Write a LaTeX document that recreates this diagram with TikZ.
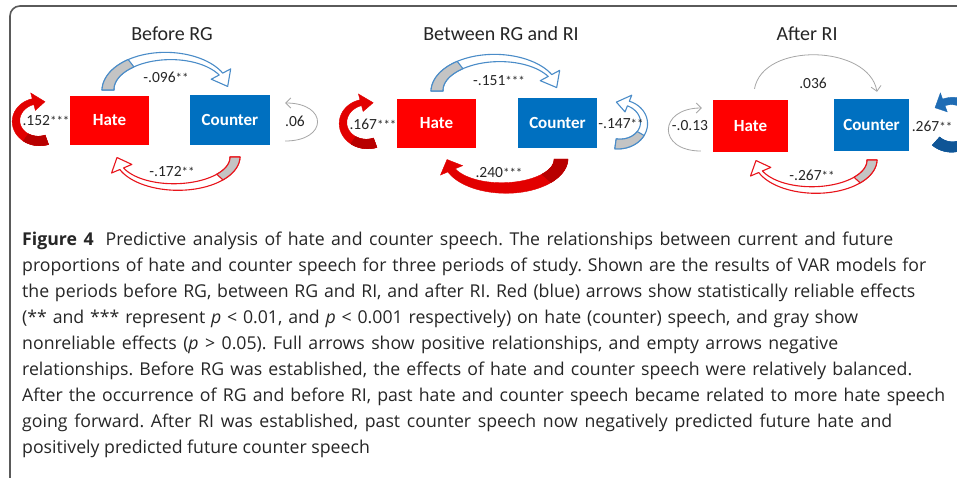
\documentclass[tikz,border=0pt]{standalone}
\usepackage{fontspec}
\setmainfont{Open Sans}
\newfontfamily\carl{Carlito}
\usetikzlibrary{arrows.meta}
\frenchspacing
\definecolor{hred}{HTML}{FF0000}
\definecolor{cblue}{HTML}{0070C0}
\definecolor{arrblue}{HTML}{4A8CC8}
\definecolor{arrred}{HTML}{E8141B}
\definecolor{tailgray}{HTML}{C4C4C4}
\definecolor{fillred}{HTML}{E20000}
\definecolor{darkred}{HTML}{B80000}
\definecolor{fillblue}{HTML}{1F6CB4}
\definecolor{darkblue}{HTML}{0F5596}
\definecolor{thingray}{HTML}{A6A6A6}
\definecolor{framecol}{HTML}{5A5A5A}
\definecolor{captxt}{HTML}{262626}
\def\hw{11}
\def\hlen{22}
% #1 cx #2 cy #3 rx #4 ry #5 tail angle #6 head-base angle #7 w tail #8 w head #9 end of shaded tail
\newcommand{\bandarrow}[9]{%
  \pgfmathsetmacro\hdir{((#6)>(#5)) ? (\hlen) : (-\hlen)}%
  \def\W{((#7)+((#8)-(#7))*(\x-(#5))/((#6)-(#5)))}%
  \path[arrbody] plot[domain=#5:#6,samples=40] ({#1+(#3+\W/2)*cos(\x)},{#2-(#4+\W/2)*sin(\x)})
    -- ({#1+(#3+\hw)*cos(#6)},{#2-(#4+\hw)*sin(#6)})
    -- ({#1+#3*cos(#6+\hdir)},{#2-#4*sin(#6+\hdir)})
    -- ({#1+(#3-\hw)*cos(#6)},{#2-(#4-\hw)*sin(#6)})
    -- plot[domain=#6:#5,samples=40] ({#1+(#3-\W/2)*cos(\x)},{#2-(#4-\W/2)*sin(\x)})
    -- cycle;
  \path[arrtail] plot[domain=#5:#9,samples=20] ({#1+(#3+\W/2)*cos(\x)},{#2-(#4+\W/2)*sin(\x)})
    -- plot[domain=#9:#5,samples=20] ({#1+(#3-\W/2)*cos(\x)},{#2-(#4-\W/2)*sin(\x)})
    -- cycle;
}
\newcommand{\useEB}{\tikzset{arrbody/.style={fill=white,draw=arrblue,line width=1.1pt,line join=round},arrtail/.style={fill=tailgray,draw=arrblue,line width=1.1pt,line join=round}}}
\newcommand{\useER}{\tikzset{arrbody/.style={fill=white,draw=arrred,line width=1.1pt,line join=round},arrtail/.style={fill=tailgray,draw=arrred,line width=1.1pt,line join=round}}}
\newcommand{\useFR}{\tikzset{arrbody/.style={fill=fillred,draw=fillred,line width=0.4pt},arrtail/.style={fill=darkred,draw=darkred,line width=0.4pt}}}
\newcommand{\useFB}{\tikzset{arrbody/.style={fill=fillblue,draw=fillblue,line width=0.4pt},arrtail/.style={fill=darkblue,draw=darkblue,line width=0.4pt}}}
\newcommand{\st}[1]{{\fontsize{13}{13}\selectfont #1}}
\newcommand{\capl}[2]{\makebox[#1pt][s]{#2}}
\tikzset{
  box/.style={inner sep=0pt,text=white,font=\carl\bfseries\fontsize{17}{20}\selectfont},
  hatebox/.style={box,fill=hred},
  counterbox/.style={box,fill=cblue},
  title/.style={inner sep=0pt,font=\carl\fontsize{20}{24}\selectfont,text=black!85},
  lab/.style={inner sep=0pt,font=\carl\fontsize{15.5}{18}\selectfont,text=black!85},
  thinarr/.style={draw=thingray,line width=0.8pt,-{Straight Barb[length=5pt,width=10pt]}},
  captline/.style={anchor=base west,inner sep=0pt,font=\fontsize{17.7}{21}\selectfont,text=captxt},
}
\begin{document}
\begin{tikzpicture}[x=1pt,y=-1pt]
\useasboundingbox (0,0) rectangle (957,477);
\clip (0,0) rectangle (957,477);
\fill[white] (0,0) rectangle (957,477);
\draw[framecol,line width=1.6pt,rounded corners=10pt] (10,480) -- (10,6) -- (962,6);

% ---------- Panel 1: Before RG ----------
\node[title] (t1) at (172,34) {Before RG};
\node[hatebox,minimum width=79pt,minimum height=49pt] (h1) at (109.5,120.5) {Hate};
\node[counterbox,minimum width=80pt,minimum height=50pt] (c1) at (230,120) {Counter};
\useEB \bandarrow{168}{90}{60}{34}{180}{28}{12}{4}{128}
\useER \bandarrow{176}{157}{59}{30}{360}{203}{10}{4}{318}
\def\hw{9}\def\hlen{30}
\useFR \bandarrow{39}{121}{23}{20}{290}{105}{10}{6}{235}
\def\hw{11}\def\hlen{22}
\draw[thinarr] ([xshift=15pt,yshift=-21pt]c1.east) to[out=0,in=0,looseness=2.9] ([xshift=15pt,yshift=17pt]c1.east);
\node[lab] (l1a) at (166,77) {-.096\st{**}};
\node[lab] (l1b) at (172,172) {-.172\st{**}};
\node[lab] (l1c) at (46,121) {.152\st{***}};
\node[lab] (l1d) at (295,121) {.06};

% ---------- Panel 2: Between RG and RI ----------
\node[title] (t2) at (501,34) {Between RG and RI};
\node[hatebox,minimum width=79pt,minimum height=49pt] (h2) at (436.5,123.5) {Hate};
\node[counterbox,minimum width=79pt,minimum height=50pt] (c2) at (557.5,123) {Counter};
\useEB \bandarrow{497}{91}{60}{33}{180}{28}{12}{4}{128}
\def\hw{12}
\useFR \bandarrow{504}{159}{57}{29}{360}{203}{14}{8}{318}
\def\hw{9}\def\hlen{30}
\useFR \bandarrow{367}{123}{24}{21}{290}{105}{10}{6}{235}
\def\hlen{28}
\useEB \bandarrow{619}{123}{25}{21}{262}{428}{10}{5}{330}
\def\hw{11}\def\hlen{22}
\node[lab] (l2a) at (499,81) {-.151\st{***}};
\node[lab] (l2b) at (499,173) {.240\st{***}};
\node[lab] (l2c) at (373,124) {.167\st{***}};
\node[lab] (l2d) at (621,124) {-.147\st{**}};

% ---------- Panel 3: After RI ----------
\node[title] (t3) at (807,34) {After RI};
\node[hatebox,minimum width=75pt,minimum height=52pt] (h3) at (750.5,126) {Hate};
\node[counterbox,minimum width=75pt,minimum height=52pt] (c3) at (871.5,125) {Counter};
\draw[thinarr] ([xshift=4pt,yshift=11pt]h3.north) to[out=80,in=100,looseness=1.0] ([xshift=5.5pt,yshift=7pt]c3.north);
\useER \bandarrow{814}{160}{58}{30}{360}{203}{10}{4}{318}
\draw[thinarr] ([xshift=-12pt,yshift=-25pt]h3.west) to[out=180,in=180,looseness=2.6] ([xshift=-11pt,yshift=18pt]h3.west);
\def\hw{10}\def\hlen{25}
\useFB \bandarrow{952}{124}{24}{23}{228}{470}{11}{7}{300}
\def\hw{11}\def\hlen{22}
\node[lab] (l3a) at (813,83) {.036};
\node[lab] (l3b) at (812,175) {-.267\st{**}};
\node[lab] (l3c) at (690,126) {-.0.13};
\node[lab] (l3d) at (932,126) {.267\st{**}};

% ---------- Caption ----------
\node[captline] (k1) at (22,245) {\capl{871}{\textbf{Figure 4}\hspace{12pt}Predictive analysis of hate and counter speech. The relationships between current and future}};
\node[captline] (k2) at (22,271) {\capl{904}{proportions of hate and counter speech for three periods of study. Shown are the results of VAR models for}};
\node[captline] (k3) at (22,297) {\capl{893}{the periods before RG, between RG and RI, and after RI. Red (blue) arrows show statistically reliable effects}};
\node[captline] (k4) at (22,323) {\capl{836}{(** and *** represent \textit{p} < 0.01, and \textit{p} < 0.001 respectively) on hate (counter) speech, and gray show}};
\node[captline] (k5) at (22,349) {\capl{816}{nonreliable effects (\textit{p} > 0.05). Full arrows show positive relationships, and empty arrows negative}};
\node[captline] (k6) at (22,375) {\capl{890}{relationships. Before RG was established, the effects of hate and counter speech were relatively balanced.}};
\node[captline] (k7) at (22,401) {\capl{923}{After the occurrence of RG and before RI, past hate and counter speech became related to more hate speech}};
\node[captline] (k8) at (22,427) {\capl{870}{going forward. After RI was established, past counter speech now negatively predicted future hate and}};
\node[captline] (k9) at (22,453) {positively predicted future counter speech};
\end{tikzpicture}
\end{document}
